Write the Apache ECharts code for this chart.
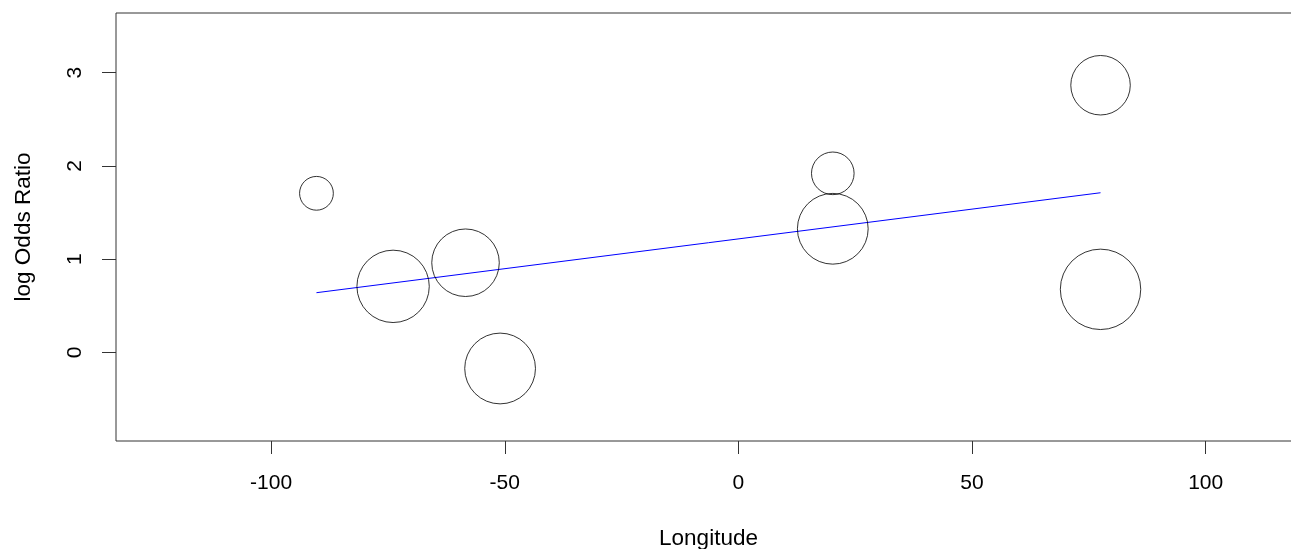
<!DOCTYPE html>
<html>
<head>
<meta charset="utf-8">
<title>log Odds Ratio vs Longitude</title>
<script src="https://cdn.jsdelivr.net/npm/echarts@6/dist/echarts.min.js"></script>
<style>
  html, body { margin: 0; padding: 0; background: #fff; overflow: hidden; }
  #chart { width: 1291px; height: 549px; }
</style>
</head>
<body>
<div id="chart"></div>
<script>
// Study-level estimates
const longitude = [-90.3, -73.9, -58.4, -51.0, 20.2, 20.2, 77.5, 77.5];
const logOddsRatio = [1.706, 0.709, 0.962, -0.171, 1.920, 1.326, 2.864, 0.677];
// Relative study weight (circle radius is proportional to it)
const studyWeight = [0.42, 0.90, 0.84, 0.88, 0.53, 0.88, 0.74, 1.00];

// Meta-regression fit, evaluated at the extreme longitudes
const fitLongitude = [-90.3, 77.5];
const fitLogOddsRatio = [0.641, 1.712];

// Axis ticks
const xTicks = [-100, -50, 0, 50, 100];
const yTicks = [0, 1, 2, 3];

const MAX_DIAMETER = 80.4;
const FONT = '"Liberation Sans", Arial, sans-serif';

const studies = longitude.map((x, i) => [x, logOddsRatio[i], studyWeight[i]]);
const fit = fitLongitude.map((x, i) => [x, fitLogOddsRatio[i]]);

const chart = echarts.init(document.getElementById('chart'), null, { renderer: 'canvas' });

chart.setOption({
  backgroundColor: '#ffffff',
  animation: false,
  // The plot frame runs slightly past the right edge of the canvas
  grid: {
    left: 116, right: -10, top: 13, bottom: 108,
    outerBoundsMode: 'none',
    containLabel: false,
    show: true, borderColor: '#333', borderWidth: 1, backgroundColor: 'transparent'
  },
  xAxis: {
    type: 'value',
    min: -133.2, max: 120.4,
    name: 'Longitude',
    nameLocation: 'middle',
    nameGap: 86,
    nameTextStyle: { color: '#000', fontSize: 22.5, fontFamily: FONT },
    axisLine: { show: false, onZero: false },
    splitLine: { show: false },
    axisTick: {
      show: true, length: 13, inside: false,
      customValues: xTicks,
      lineStyle: { color: '#333', width: 1 }
    },
    axisLabel: {
      show: true, margin: 32, color: '#000', fontSize: 21, fontFamily: FONT,
      customValues: xTicks,
      formatter: v => String(v)
    }
  },
  yAxis: {
    type: 'value',
    min: -0.948, max: 3.638,
    name: 'log Odds Ratio',
    nameLocation: 'middle',
    nameRotate: 90,
    nameGap: 81,
    nameTextStyle: { color: '#000', fontSize: 22.5, fontFamily: FONT },
    axisLine: { show: false, onZero: false },
    splitLine: { show: false },
    axisTick: {
      show: true, length: 14, inside: false,
      customValues: yTicks,
      lineStyle: { color: '#333', width: 1 }
    },
    axisLabel: {
      show: true, margin: 30.5, rotate: 90, color: '#000', fontSize: 21, fontFamily: FONT,
      customValues: yTicks,
      formatter: v => String(v)
    }
  },
  series: [
    {
      name: 'fit',
      type: 'line',
      data: fit,
      showSymbol: false,
      symbol: 'none',
      lineStyle: { color: '#0000ff', width: 1 },
      silent: true,
      z: 2
    },
    {
      name: 'studies',
      type: 'scatter',
      data: studies,
      symbol: 'circle',
      symbolSize: d => d[2] * MAX_DIAMETER,
      itemStyle: { color: 'rgba(0,0,0,0)', borderColor: '#000', borderWidth: 1 },
      silent: true,
      z: 3
    }
  ]
});
</script>
</body>
</html>
